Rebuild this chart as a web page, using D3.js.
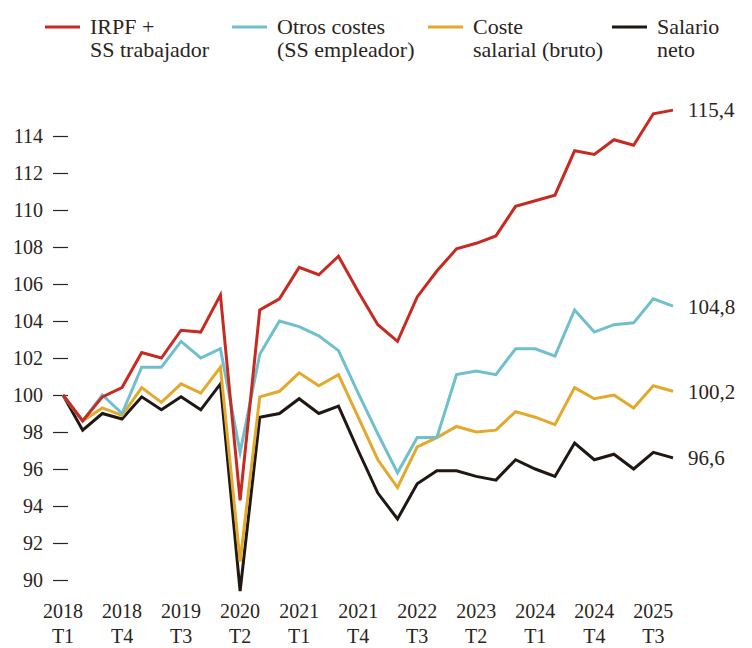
<!DOCTYPE html>
<html>
<head>
<meta charset="utf-8">
<script src="https://cdn.jsdelivr.net/npm/d3@7.9.0/dist/d3.min.js"></script>
<style>
  body { margin: 0; background: #fff; }
  svg text { font-family: "Liberation Serif", "DejaVu Serif", serif; fill: #2b2420; }
</style>
</head>
<body>
<svg id="chart" width="752" height="648"></svg>
<script>
const quarters = [
  '2018 T1', '2018 T2', '2018 T3', '2018 T4',
  '2019 T1', '2019 T2', '2019 T3', '2019 T4',
  '2020 T1', '2020 T2', '2020 T3', '2020 T4',
  '2021 T1', '2021 T2', '2021 T3', '2021 T4',
  '2022 T1', '2022 T2', '2022 T3', '2022 T4',
  '2023 T1', '2023 T2', '2023 T3', '2023 T4',
  '2024 T1', '2024 T2', '2024 T3', '2024 T4',
  '2025 T1', '2025 T2', '2025 T3', '2025 T4'
];
const tickQuarters = ['2018 T1', '2018 T4', '2019 T3', '2020 T2', '2021 T1', '2021 T4',
  '2022 T3', '2023 T2', '2024 T1', '2024 T4', '2025 T3'];
const yTicks = [90, 92, 94, 96, 98, 100, 102, 104, 106, 108, 110, 112, 114];

const irpf = [100, 98.6, 99.9, 100.4, 102.3, 102.0, 103.5, 103.4, 105.4, 94.3, 104.6, 105.2,
  106.9, 106.5, 107.5, 105.6, 103.8, 102.9, 105.3, 106.7, 107.9, 108.2, 108.6, 110.2,
  110.5, 110.8, 113.2, 113.0, 113.8, 113.5, 115.2, 115.4];
const otros = [100, 98.6, 100.0, 99.0, 101.5, 101.5, 102.9, 102.0, 102.5, 96.9, 102.2, 104.0,
  103.7, 103.2, 102.4, 100.1, 97.9, 95.8, 97.7, 97.7, 101.1, 101.3, 101.1, 102.5,
  102.5, 102.1, 104.6, 103.4, 103.8, 103.9, 105.2, 104.8];
const coste = [100, 98.6, 99.3, 98.9, 100.4, 99.6, 100.6, 100.1, 101.5, 91.0, 99.9, 100.2,
  101.2, 100.5, 101.1, 98.8, 96.5, 95.0, 97.2, 97.7, 98.3, 98.0, 98.1, 99.1,
  98.8, 98.4, 100.4, 99.8, 100.0, 99.3, 100.5, 100.2];
const neto = [100, 98.1, 99.0, 98.7, 99.9, 99.2, 99.9, 99.2, 100.6, 89.4, 98.8, 99.0,
  99.8, 99.0, 99.4, 97.0, 94.7, 93.3, 95.2, 95.9, 95.9, 95.6, 95.4, 96.5,
  96.0, 95.6, 97.4, 96.5, 96.8, 96.0, 96.9, 96.6];

const seriesNames = ['IRPF +|SS trabajador', 'Otros costes|(SS empleador)', 'Coste|salarial (bruto)', 'Salario|neto'];
const seriesColors = ['#c62a20', '#6fbfcd', '#e2a92b', '#1f1712'];
const endLabels = ['115,4', '104,8', '100,2', '96,6'];

const allSeries = [irpf, otros, coste, neto];
const svg = d3.select('#chart');

const x = d3.scalePoint().domain(quarters).range([63, 673]);
const y = d3.scaleLinear().domain([90, 114]).range([580, 136]);

// eje y
const yAxis = svg.append('g')
  .attr('transform', 'translate(68,0)')
  .call(d3.axisLeft(y).tickValues(yTicks).tickSize(15).tickPadding(10).tickFormat(d3.format('d')));
yAxis.select('.domain').remove();
yAxis.selectAll('.tick line').attr('stroke', '#2b2420').attr('stroke-width', 1.2);
yAxis.selectAll('.tick text').attr('font-size', 20).attr('fill', '#2b2420')
  .attr('font-family', '"Liberation Serif", serif');

// eje x, dos lineas
const xAxis = svg.append('g').attr('transform', 'translate(0,605)');
tickQuarters.forEach((q) => {
  const [yr, tr] = q.split(' ');
  const t = xAxis.append('text')
    .attr('x', x(q))
    .attr('text-anchor', 'middle')
    .attr('font-size', 20);
  t.append('tspan').attr('x', x(q)).attr('y', 13).text(yr);
  t.append('tspan').attr('x', x(q)).attr('y', 38).text(tr);
});

const line = d3.line()
  .x((d, i) => x(quarters[i]))
  .y((d) => y(d));

// se dibuja de atras hacia delante
[3, 2, 1, 0].forEach((k) => {
  svg.append('path')
    .datum(allSeries[k])
    .attr('d', line)
    .attr('fill', 'none')
    .attr('stroke', seriesColors[k])
    .attr('stroke-width', 3)
    .attr('stroke-linejoin', 'miter')
    .attr('stroke-miterlimit', 6);
});

// etiquetas finales
allSeries.forEach((s, k) => {
  const last = s[s.length - 1];
  svg.append('text')
    .attr('x', 688)
    .attr('y', y(last))
    .attr('dy', '0.35em')
    .attr('font-size', 21)
    .text(endLabels[k]);
});

// leyenda
const legendX = [45, 232, 428, 612];
seriesNames.forEach((name, k) => {
  const g = svg.append('g').attr('transform', `translate(${legendX[k]},27)`);
  g.append('line')
    .attr('x1', 0).attr('x2', 35)
    .attr('stroke', seriesColors[k])
    .attr('stroke-width', 3);
  const lines = name.split('|');
  const t = g.append('text').attr('font-size', 22);
  lines.forEach((l, j) => {
    t.append('tspan').attr('x', 45).attr('y', 7 + j * 23).text(l);
  });
});
</script>
</body>
</html>
